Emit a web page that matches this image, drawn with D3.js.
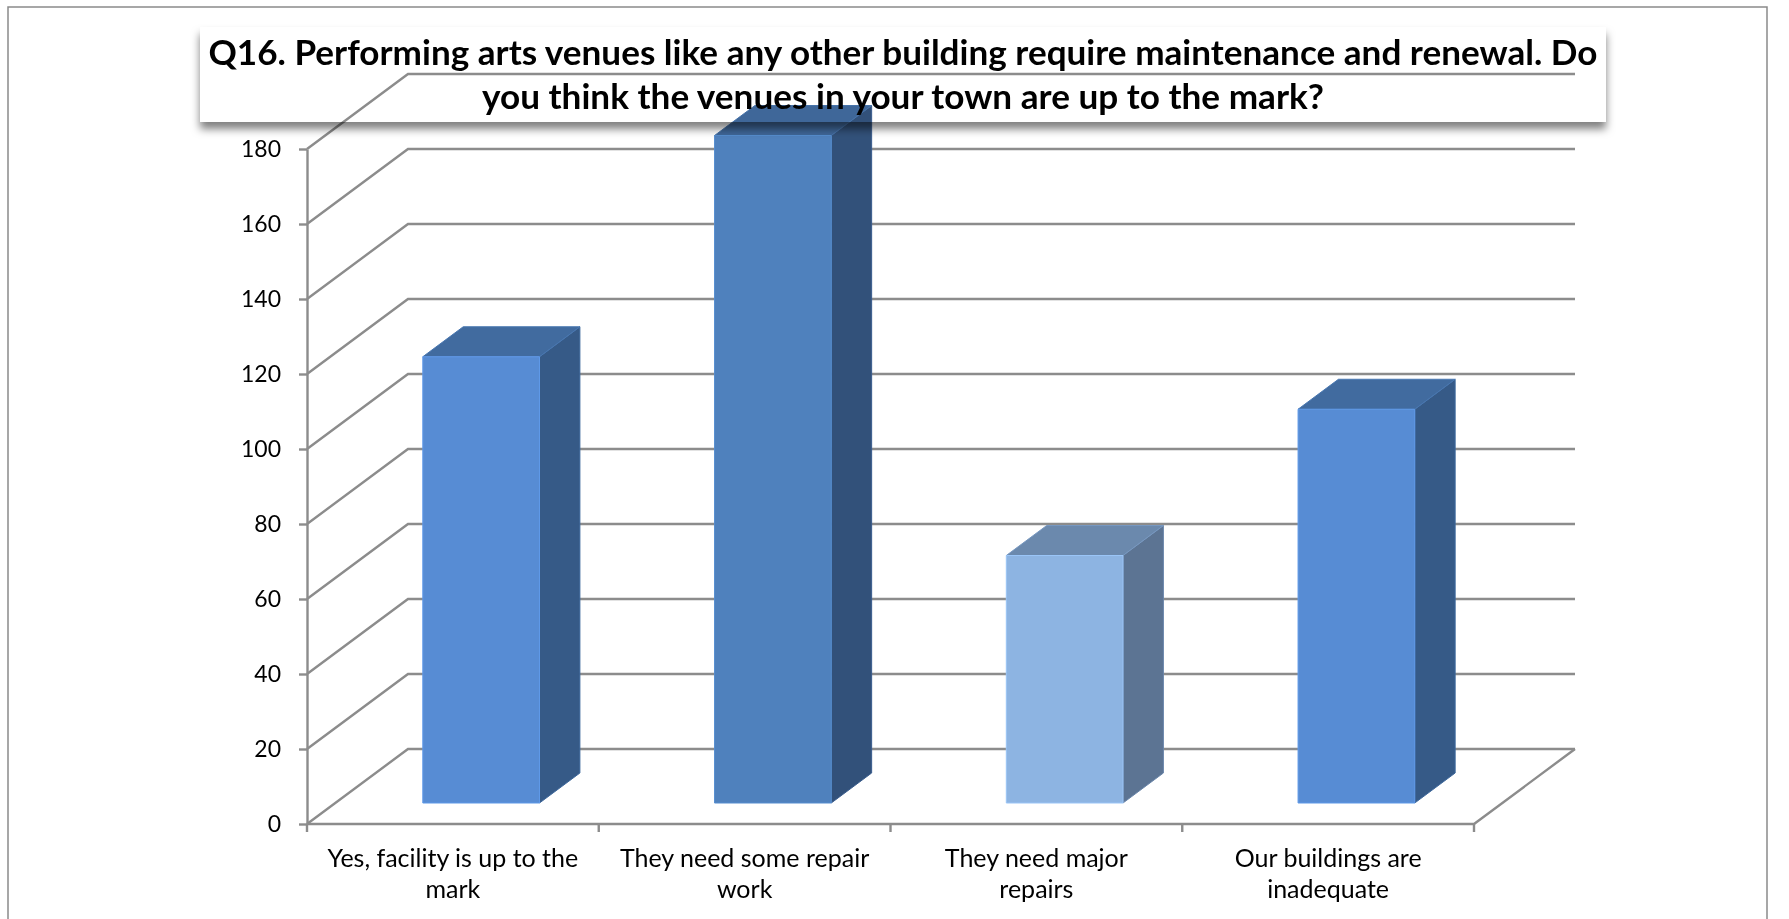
<!DOCTYPE html>
<html>
<head>
<meta charset="utf-8">
<script src="https://cdn.jsdelivr.net/npm/d3@7"></script>
<style>
  body { margin: 0; background: #ffffff; }
  svg { display: block; }
</style>
</head>
<body>
<svg id="chart" width="1789" height="919"></svg>
<script>
// Survey responses to Q16
const categories = [
  "Yes, facility is up to the mark",
  "They need some repair work",
  "They need major repairs",
  "Our buildings are inadequate"
];
const categoryLines = [
  ["Yes, facility is up to the", "mark"],
  ["They need some repair", "work"],
  ["They need major", "repairs"],
  ["Our buildings are", "inadequate"]
];
const responses = [119, 178, 66, 105];
const yTicks = [0, 20, 40, 60, 80, 100, 120, 140, 160, 180];
const titleLines = [
  "Q16. Performing arts venues like any other building require maintenance and renewal. Do",
  "you think the venues in your town are up to the mark?"
];

// Face shading for each column (front / right side / top)
const barColors = [
  { front: "#578cd4", side: "#365a87", top: "#416b9f" },
  { front: "#4f81bd", side: "#32517a", top: "#3f6799" },
  { front: "#8db4e2", side: "#5c7493", top: "#6b89ad" },
  { front: "#578cd4", side: "#365a87", top: "#416b9f" }
];

const svg = d3.select("#chart");
const gridColor = "#8c8c8c";
const fontFamily = "Lato, 'Open Sans', sans-serif";

// Front plane of the plot and the oblique depth vector of the 3D box
const plot = { left: 307, right: 1474, top: 149, bottom: 824 };
const depth = { dx: 101, dy: -75 };
const barDepth = [0.28, 0.68];   // columns sit between these depth fractions
const barWidthRatio = 0.4;

const x = d3.scaleBand().domain(categories).range([plot.left, plot.right]).padding(0);
const y = d3.scaleLinear().domain([0, 180]).range([plot.bottom, plot.top]);

const proj = (px, py, f) => [px + f * depth.dx, py + f * depth.dy];
const poly = pts => "M" + pts.map(p => p.join(",")).join("L") + "Z";

// Outer frame
svg.append("path")
  .attr("d", "M8,925V7H1767V925")
  .attr("fill", "none")
  .attr("stroke", "#8a8a8a")
  .attr("stroke-width", 1.5);

// Walls: side-wall diagonals and back-wall gridlines
const grid = svg.append("g")
  .attr("fill", "none")
  .attr("stroke", gridColor)
  .attr("stroke-width", 2.4);

grid.selectAll("path.wall")
  .data(yTicks)
  .join("path")
  .attr("class", "wall")
  .attr("d", v => {
    const a = [plot.left, y(v)];
    const b = proj(plot.left, y(v), 1);
    const c = proj(plot.right, y(v), 1);
    return "M" + a + "L" + b + "L" + c;
  });

// Floor front edge and right edge
grid.append("path")
  .attr("d", () => {
    const a = [plot.left, y(0)];
    const b = [plot.right, y(0)];
    const c = proj(plot.right, y(0), 1);
    return "M" + a + "L" + b + "L" + c;
  });

// Category tick marks on the floor edge
const boundaries = categories.map(c => x(c)).concat([plot.right]);
grid.selectAll("line.cat-tick")
  .data(boundaries)
  .join("line")
  .attr("class", "cat-tick")
  .attr("x1", d => d).attr("x2", d => d)
  .attr("y1", y(0)).attr("y2", y(0) + 8);

// Value axis
const yAxis = d3.axisLeft(y)
  .tickValues(yTicks)
  .tickSize(8)
  .tickSizeOuter(0)
  .tickPadding(18);

const axisG = svg.append("g")
  .attr("transform", `translate(${plot.left},0)`)
  .call(yAxis);
axisG.select(".domain").attr("stroke", gridColor).attr("stroke-width", 2.4);
axisG.selectAll(".tick line").attr("stroke", gridColor).attr("stroke-width", 2.4);
axisG.selectAll(".tick text")
  .attr("font-size", 23)
  .attr("fill", "#000")
  .attr("font-family", fontFamily);

// 3D columns
const bars = svg.append("g")
  .selectAll("g.bar")
  .data(categories.map((c, i) => ({ c, v: responses[i], col: barColors[i] })))
  .join("g")
  .attr("class", "bar");

bars.each(function (d) {
  const g = d3.select(this);
  const bw = x.bandwidth() * barWidthRatio;
  const x0 = x(d.c) + (x.bandwidth() - bw) / 2;
  const x1 = x0 + bw;
  const y0 = y(0), yv = y(d.v);
  const [f0, f1] = barDepth;

  const front = [proj(x0, y0, f0), proj(x1, y0, f0), proj(x1, yv, f0), proj(x0, yv, f0)];
  const side = [proj(x1, y0, f0), proj(x1, y0, f1), proj(x1, yv, f1), proj(x1, yv, f0)];
  const top = [proj(x0, yv, f0), proj(x1, yv, f0), proj(x1, yv, f1), proj(x0, yv, f1)];

  g.append("path").attr("d", poly(side)).attr("fill", d.col.side)
    .attr("stroke", d3.color(d.col.side).brighter(0.4)).attr("stroke-width", 1);
  g.append("path").attr("d", poly(top)).attr("fill", d.col.top)
    .attr("stroke", d3.color(d.col.top).brighter(0.3)).attr("stroke-width", 1);
  g.append("path").attr("d", poly(front)).attr("fill", d.col.front)
    .attr("stroke", d3.color(d.col.front).brighter(0.25)).attr("stroke-width", 1);
});

// Category labels (two lines each)
const labels = svg.append("g")
  .attr("font-family", fontFamily)
  .attr("font-size", 25)
  .attr("fill", "#000")
  .attr("text-anchor", "middle");

labels.selectAll("text")
  .data(categories.map((c, i) => ({ c, lines: categoryLines[i] })))
  .join("text")
  .attr("x", d => x(d.c) + x.bandwidth() / 2)
  .attr("y", 867)
  .selectAll("tspan")
  .data(d => d.lines.map((t, j) => ({ t, j, cx: x(d.c) + x.bandwidth() / 2 })))
  .join("tspan")
  .attr("x", d => d.cx)
  .attr("dy", d => d.j === 0 ? 0 : 31)
  .text(d => d.t);

// Title box with drop shadow, blended over the chart
const defs = svg.append("defs");
const shadow = defs.append("filter")
  .attr("id", "titleShadow")
  .attr("x", "-5%").attr("y", "-30%")
  .attr("width", "110%").attr("height", "170%");
shadow.append("feDropShadow")
  .attr("dx", 0).attr("dy", 7)
  .attr("stdDeviation", 4)
  .attr("flood-color", "#000")
  .attr("flood-opacity", 0.5);

const titleG = svg.append("g").style("mix-blend-mode", "multiply");
titleG.append("rect")
  .attr("x", 200).attr("y", 27)
  .attr("width", 1406).attr("height", 95)
  .attr("fill", "#ffffff")
  .attr("filter", "url(#titleShadow)");

const titleWidths = [1389, 842];
titleG.selectAll("text")
  .data(titleLines)
  .join("text")
  .attr("x", 903)
  .attr("y", (d, i) => 65 + i * 44)
  .attr("text-anchor", "middle")
  .attr("font-family", fontFamily)
  .attr("font-weight", 700)
  .attr("font-size", 34)
  .attr("fill", "#000")
  .attr("textLength", (d, i) => titleWidths[i])
  .attr("lengthAdjust", "spacingAndGlyphs")
  .text(d => d);
</script>
</body>
</html>
